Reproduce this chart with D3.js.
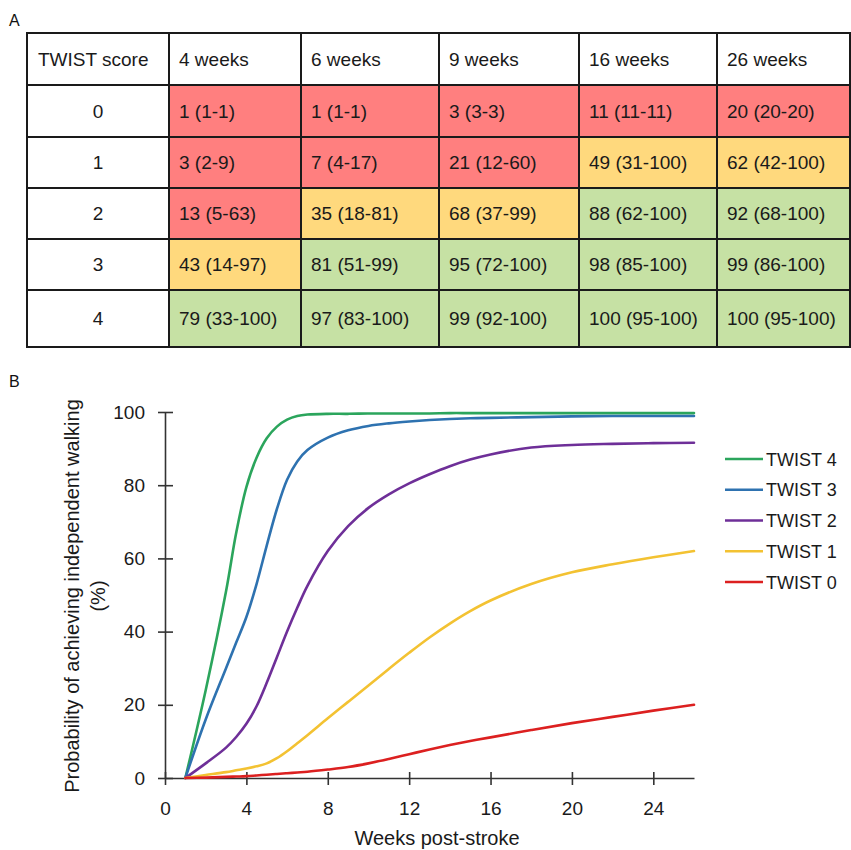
<!DOCTYPE html>
<html>
<head>
<meta charset="utf-8">
<script src="https://cdn.jsdelivr.net/npm/d3@7"></script>
<style>
  html, body { margin: 0; padding: 0; background: #fff; }
  svg { display: block; font-family: "Liberation Sans", Arial, sans-serif; }
</style>
</head>
<body>
<svg id="chart" width="851" height="850"></svg>
<script>
// ---------- DATA ----------
const tableHeader = ["TWIST score", "4 weeks", "6 weeks", "9 weeks", "16 weeks", "26 weeks"];
const twistScores = ["0", "1", "2", "3", "4"];
const tableRow0 = ["1 (1-1)", "1 (1-1)", "3 (3-3)", "11 (11-11)", "20 (20-20)"];
const tableRow1 = ["3 (2-9)", "7 (4-17)", "21 (12-60)", "49 (31-100)", "62 (42-100)"];
const tableRow2 = ["13 (5-63)", "35 (18-81)", "68 (37-99)", "88 (62-100)", "92 (68-100)"];
const tableRow3 = ["43 (14-97)", "81 (51-99)", "95 (72-100)", "98 (85-100)", "99 (86-100)"];
const tableRow4 = ["79 (33-100)", "97 (83-100)", "99 (92-100)", "100 (95-100)", "100 (95-100)"];
const tableRows = [tableRow0, tableRow1, tableRow2, tableRow3, tableRow4];
// cell category: r = red, y = amber, g = green
const cellClass0 = ["r", "r", "r", "r", "r"];
const cellClass1 = ["r", "r", "r", "y", "y"];
const cellClass2 = ["r", "y", "y", "g", "g"];
const cellClass3 = ["y", "g", "g", "g", "g"];
const cellClass4 = ["g", "g", "g", "g", "g"];
const cellClasses = [cellClass0, cellClass1, cellClass2, cellClass3, cellClass4];

const weekGrid = [1, 2, 3, 3.5, 4, 4.5, 5, 5.5, 6, 6.5, 7, 8, 9, 10, 11, 12, 13, 14, 15, 16, 18, 20, 22, 24, 26];
const twist4 = [0, 24, 51, 67, 79.5, 87.5, 92.8, 96, 97.9, 98.9, 99.3, 99.5, 99.5, 99.6, 99.6, 99.6, 99.6, 99.7, 99.7, 99.7, 99.7, 99.7, 99.7, 99.7, 99.7];
const twist3 = [0, 16, 30, 37, 44, 53, 63.5, 73.5, 81.5, 86.5, 89.6, 93, 95, 96.2, 96.9, 97.4, 97.8, 98.1, 98.3, 98.4, 98.6, 98.8, 98.9, 98.9, 98.9];
const twist2 = [0, 4, 8.3, 11.2, 14.8, 19.6, 26, 33, 40, 46.5, 52.5, 62, 68.8, 73.8, 77.5, 80.5, 83, 85.2, 87, 88.4, 90.3, 91, 91.3, 91.5, 91.6];
const twist1 = [0, 0.8, 1.6, 2.1, 2.6, 3.2, 4.0, 5.4, 7.3, 9.5, 11.7, 16.3, 20.8, 25.3, 29.8, 34.2, 38.4, 42.2, 45.6, 48.5, 53, 56.2, 58.4, 60.3, 62];
const twist0 = [0, 0.1, 0.3, 0.4, 0.5, 0.7, 0.9, 1.1, 1.3, 1.5, 1.7, 2.3, 3, 4, 5.2, 6.5, 7.8, 9, 10.1, 11.1, 13.1, 15, 16.7, 18.4, 20];
const seriesNames = ["TWIST 4", "TWIST 3", "TWIST 2", "TWIST 1", "TWIST 0"];
const seriesValues = [twist4, twist3, twist2, twist1, twist0];
const xTicks = [0, 4, 8, 12, 16, 20, 24];
const yTicks = [0, 20, 40, 60, 80, 100];

// ---------- STYLE / LAYOUT ----------
const cellFill = { r: "#ff7f7f", y: "#ffd97d", g: "#c6e1a4" };
const seriesColors = ["#2ba55c", "#2e72b0", "#6e2f98", "#f3c232", "#dc2020"];
const colEdges = [27, 169, 301, 439, 579, 717, 850];
const rowEdges = [33, 85, 137, 188, 239, 290, 347];

const svg = d3.select("#chart");

// Panel labels
svg.append("text").attr("x", 9).attr("y", 26).attr("font-size", 16).attr("fill", "#111").text("A");
svg.append("text").attr("x", 9).attr("y", 387).attr("font-size", 16).attr("fill", "#111").text("B");

// ---------- TABLE ----------
const tbl = svg.append("g");
const allRows = [tableHeader].concat(tableRows.map((r, i) => [twistScores[i]].concat(r)));
allRows.forEach((row, ri) => {
  row.forEach((txt, ci) => {
    const x0 = colEdges[ci], x1 = colEdges[ci + 1];
    const y0 = rowEdges[ri], y1 = rowEdges[ri + 1];
    let fill = "#fff";
    if (ri > 0 && ci > 0) fill = cellFill[cellClasses[ri - 1][ci - 1]];
    tbl.append("rect").attr("x", x0).attr("y", y0).attr("width", x1 - x0).attr("height", y1 - y0)
      .attr("fill", fill);
    const centered = (ri > 0 && ci === 0);
    tbl.append("text")
      .attr("x", centered ? (x0 + x1) / 2 : x0 + (ci === 0 ? 11 : 10))
      .attr("y", (y0 + y1) / 2 + 6.5)
      .attr("text-anchor", centered ? "middle" : "start")
      .attr("font-size", 19)
      .attr("fill", "#1a1a1a")
      .text(txt);
  });
});
// grid lines
colEdges.forEach(x => tbl.append("line").attr("x1", x).attr("x2", x)
  .attr("y1", rowEdges[0]).attr("y2", rowEdges[rowEdges.length - 1])
  .attr("stroke", "#1a1a1a").attr("stroke-width", 2));
rowEdges.forEach(y => tbl.append("line").attr("y1", y).attr("y2", y)
  .attr("x1", colEdges[0] - 1).attr("x2", colEdges[colEdges.length - 1] + 1)
  .attr("stroke", "#1a1a1a").attr("stroke-width", 2));

// ---------- LINE CHART ----------
const x = d3.scaleLinear().domain([0, 26]).range([165, 694]);
const y = d3.scaleLinear().domain([0, 100]).range([778, 412]);
const axisColor = "#333";

const gx = svg.append("g").attr("transform", `translate(0,${y(0)})`)
  .call(d3.axisBottom(x).tickValues(xTicks).tickSizeInner(7).tickSizeOuter(0).tickPadding(16.5));
gx.selectAll(".tick line").attr("y1", -6);
const gy = svg.append("g").attr("transform", `translate(${x(0)},0)`)
  .call(d3.axisLeft(y).tickValues(yTicks).tickSizeInner(7).tickSizeOuter(0).tickPadding(13));
gy.selectAll(".tick line").attr("x1", 8);
[gx, gy].forEach(g => {
  g.select(".domain").attr("stroke", axisColor).attr("stroke-width", 1.6);
  g.selectAll(".tick line").attr("stroke", axisColor).attr("stroke-width", 1.6);
  g.selectAll(".tick text").attr("font-size", 19).attr("fill", "#1a1a1a")
    .attr("font-family", "Liberation Sans, Arial, sans-serif");
});

const line = d3.line().x((d, i) => x(weekGrid[i])).y(d => y(d)).curve(d3.curveCatmullRom.alpha(0.5));
seriesValues.forEach((vals, si) => {
  svg.append("path").datum(vals).attr("d", line)
    .attr("fill", "none").attr("stroke", seriesColors[si]).attr("stroke-width", 2.6)
    .attr("stroke-linejoin", "round").attr("stroke-linecap", "round");
});

// Axis titles
svg.append("text").attr("text-anchor", "middle").attr("font-size", 20).attr("fill", "#1a1a1a")
  .attr("transform", "translate(79,596) rotate(-90)").text("Probability of achieving independent walking");
svg.append("text").attr("text-anchor", "middle").attr("font-size", 20).attr("fill", "#1a1a1a")
  .attr("transform", "translate(105,596) rotate(-90)").text("(%)");
svg.append("text").attr("text-anchor", "middle").attr("font-size", 20).attr("fill", "#1a1a1a")
  .attr("x", 437).attr("y", 845).text("Weeks post-stroke");

// Legend
const legendY = d3.scalePoint().domain(seriesNames).range([459, 582]);
seriesNames.forEach((name, si) => {
  const ly = legendY(name);
  svg.append("line").attr("x1", 725).attr("x2", 763).attr("y1", ly).attr("y2", ly)
    .attr("stroke", seriesColors[si]).attr("stroke-width", 2.6);
  svg.append("text").attr("x", 766).attr("y", ly + 6.5).attr("font-size", 18)
    .attr("fill", "#1a1a1a").text(name);
});
</script>
</body>
</html>
